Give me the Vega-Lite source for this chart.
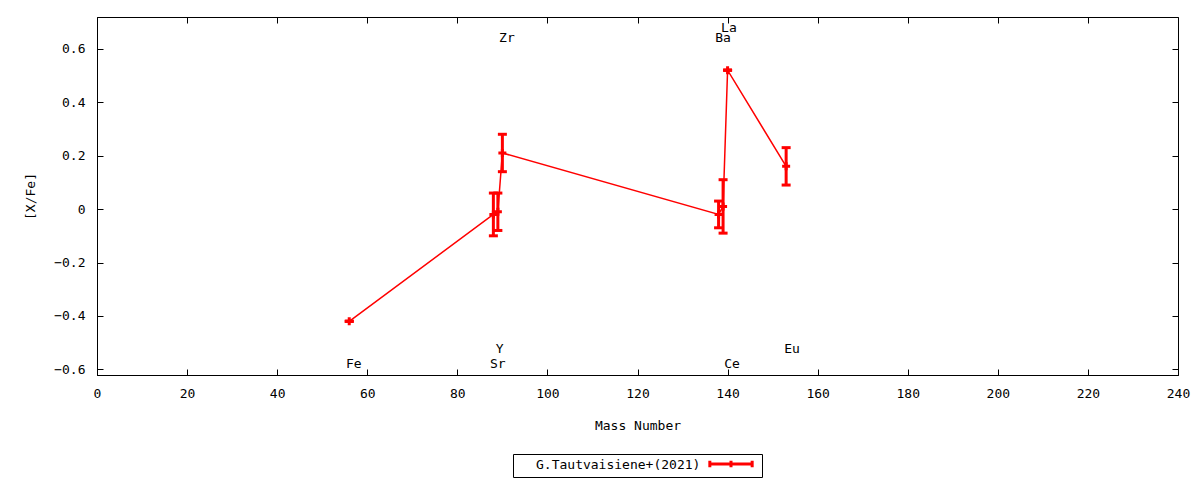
{
  "$schema": "https://vega.github.io/schema/vega-lite/v6.json",
  "width": 1081,
  "height": 358,
  "autosize": {"type": "none"},
  "padding": {"left": 97, "top": 17, "right": 22, "bottom": 105},
  "background": "white",
  "config": {
    "font": "DejaVu Sans Mono",
    "view": {"stroke": "black", "strokeWidth": 1},
    "axis": {
      "labelFont": "DejaVu Sans Mono",
      "labelFontSize": 13,
      "labelColor": "black",
      "labelFlush": false,
      "labelOverlap": false,
      "titleFont": "DejaVu Sans Mono",
      "titleFontSize": 13,
      "titleFontWeight": "normal",
      "titleColor": "black",
      "domainColor": "black",
      "tickColor": "black",
      "tickSize": -6,
      "grid": false
    }
  },
  "datasets": {
    "abund": [
      {"el": "Fe", "mass": 56, "val": -0.42, "lo": -0.42, "hi": -0.42},
      {"el": "Sr", "mass": 88, "val": -0.02, "lo": -0.10, "hi": 0.06},
      {"el": "Y", "mass": 89, "val": -0.01, "lo": -0.08, "hi": 0.06},
      {"el": "Zr", "mass": 90, "val": 0.21, "lo": 0.14, "hi": 0.28},
      {"el": "Ba", "mass": 138, "val": -0.02, "lo": -0.07, "hi": 0.03},
      {"el": "La", "mass": 139, "val": 0.01, "lo": -0.09, "hi": 0.11},
      {"el": "Ce", "mass": 140, "val": 0.52, "lo": 0.52, "hi": 0.52},
      {"el": "Eu", "mass": 153, "val": 0.16, "lo": 0.09, "hi": 0.23}
    ],
    "labels": [
      {"name": "Fe", "x": 57, "y": -0.578},
      {"name": "Sr", "x": 89, "y": -0.578},
      {"name": "Y", "x": 89.4, "y": -0.525},
      {"name": "Zr", "x": 91, "y": 0.64},
      {"name": "Ba", "x": 139, "y": 0.64},
      {"name": "La", "x": 140.3, "y": 0.678},
      {"name": "Ce", "x": 141, "y": -0.578},
      {"name": "Eu", "x": 154.3, "y": -0.525}
    ]
  },
  "resolve": {"axis": {"x": "independent", "y": "independent"}},
  "layer": [
    {
      "data": {"name": "abund"},
      "mark": {"type": "line", "strokeWidth": 1.5, "color": "#ff0000"},
      "encoding": {
        "x": {
          "field": "mass",
          "type": "quantitative",
          "title": "Mass Number",
          "scale": {"domain": [0, 240], "nice": false, "zero": false},
          "axis": {"values": [0, 20, 40, 60, 80, 100, 120, 140, 160, 180, 200, 220, 240], "labelPadding": 18, "titlePadding": 19}
        },
        "y": {
          "field": "val",
          "type": "quantitative",
          "title": "[X/Fe]",
          "scale": {"domain": [-0.621, 0.719], "nice": false, "zero": false},
          "axis": {"values": [-0.6, -0.4, -0.2, 0, 0.2, 0.4, 0.6], "labelPadding": 18, "titlePadding": 16, "format": ".1~f"}
        },
        "color": {
          "datum": "G.Tautvaisiene+(2021)",
          "type": "nominal",
          "scale": {"range": ["#ff0000"]},
          "legend": {
            "orient": "none",
            "legendX": 416,
            "legendY": 437,
            "title": "\u2800\u2800G.Tautvaisiene+(2021)",
            "titleOrient": "left",
            "titleFont": "DejaVu Sans Mono",
            "titleFontSize": 13,
            "titleFontWeight": "normal",
            "titleColor": "black",
            "titleBaseline": "middle",
            "titleLimit": 400,
            "titlePadding": 23,
            "labelExpr": "''",
            "labelFontSize": 1,
            "symbolType": "M-4,0H4M-4,-0.6V0.6M4,-0.6V0.6M0,-0.6V0.6",
            "symbolSize": 112,
            "symbolStrokeWidth": 3,
            "symbolStrokeColor": "#ff0000",
            "strokeColor": "black",
            "padding": 3
          }
        }
      }
    },
    {
      "data": {"name": "abund"},
      "mark": {"type": "rule", "strokeWidth": 3, "color": "#ff0000"},
      "encoding": {
        "x": {"field": "mass", "type": "quantitative", "axis": null},
        "y": {"field": "lo", "type": "quantitative", "axis": null},
        "y2": {"field": "hi"}
      }
    },
    {
      "data": {"name": "abund"},
      "mark": {"type": "tick", "orient": "horizontal", "size": 9, "thickness": 3, "color": "#ff0000", "opacity": 1},
      "encoding": {
        "x": {"field": "mass", "type": "quantitative", "axis": null},
        "y": {"field": "lo", "type": "quantitative", "axis": null}
      }
    },
    {
      "data": {"name": "abund"},
      "mark": {"type": "tick", "orient": "horizontal", "size": 9, "thickness": 3, "color": "#ff0000", "opacity": 1},
      "encoding": {
        "x": {"field": "mass", "type": "quantitative", "axis": null},
        "y": {"field": "hi", "type": "quantitative", "axis": null}
      }
    },
    {
      "data": {"name": "abund"},
      "mark": {"type": "point", "shape": "M-1,0H1M0,-1V1", "size": 64, "filled": false, "strokeWidth": 3, "color": "#ff0000", "opacity": 1},
      "encoding": {
        "x": {"field": "mass", "type": "quantitative", "axis": null},
        "y": {"field": "val", "type": "quantitative", "axis": null}
      }
    },
    {
      "data": {"name": "labels"},
      "mark": {"type": "text", "font": "DejaVu Sans Mono", "fontSize": 13, "color": "black", "align": "center", "baseline": "middle"},
      "encoding": {
        "x": {"field": "x", "type": "quantitative", "axis": {"orient": "top", "labels": false, "title": null, "values": [0, 20, 40, 60, 80, 100, 120, 140, 160, 180, 200, 220, 240], "domain": false}},
        "y": {"field": "y", "type": "quantitative", "axis": {"orient": "right", "labels": false, "title": null, "values": [-0.6, -0.4, -0.2, 0, 0.2, 0.4, 0.6], "domain": false}},
        "text": {"field": "name"}
      }
    }
  ]
}
